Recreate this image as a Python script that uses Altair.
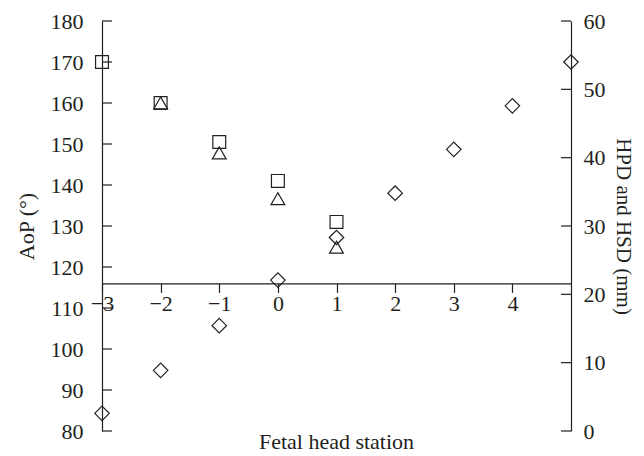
import altair as alt
import pandas as pd

# ---- data ----
stations = [-3, -2, -1, 0, 1, 2, 3, 4, 5]
aop = [84.3, 94.8, 105.7, 116.8, 127.2, 138.0, 148.7, 159.3, 170.0]

hpd_stations = [-3, -2, -1, 0, 1]
hpd = [54.0, 48.0, 42.3, 36.6, 30.6]

hsd_stations = [-2, -1, 0, 1]
hsd = [48.0, 40.7, 34.0, 26.9]

x_ticks = [-3, -2, -1, 0, 1, 2, 3, 4]
left_ticks = [80, 90, 100, 110, 120, 130, 140, 150, 160, 170, 180]
right_ticks = [0, 10, 20, 30, 40, 50, 60]

x_domain = [-3, 5]
left_domain = [80, 180]
right_domain = [0, 60]
x_axis_at = 116  # AoP value where the station axis crosses

W, H = 469, 410
FONT = "Liberation Serif"
INK = "#231f20"
FS = 22

df_aop = pd.DataFrame({"station": stations, "v": aop})
df_hpd = pd.DataFrame({"station": hpd_stations, "v": hpd})
df_hsd = pd.DataFrame({"station": hsd_stations, "v": hsd})
df_lt = pd.DataFrame({"v": left_ticks})
df_rt = pd.DataFrame({"v": right_ticks})

# move the bottom axis up so it crosses at x_axis_at on the AoP scale
x_offset = -H * (x_axis_at - left_domain[0]) / (left_domain[1] - left_domain[0])

x_axis = alt.Axis(
    values=x_ticks, title=None, grid=False, offset=x_offset,
    tickSize=9, tickColor=INK, domainColor=INK, tickWidth=1.2, domainWidth=1.2,
    labelFont=FONT, labelFontSize=FS, labelColor=INK, labelPadding=1,
    labelFlush=False, labelOverlap=False, format="d",
)
X = alt.X("station:Q", scale=alt.Scale(domain=x_domain, nice=False, zero=False), axis=x_axis)

left_scale = alt.Scale(domain=left_domain, nice=False, zero=False)
right_scale = alt.Scale(domain=right_domain, nice=False, zero=False)

left_axis = alt.Axis(
    orient="left", values=left_ticks, title="AoP (°)", grid=False, ticks=False,
    domainColor=INK, domainWidth=1.2,
    labelFont=FONT, labelFontSize=FS, labelColor=INK, labelPadding=19,
    titleFont=FONT, titleFontSize=FS, titleFontWeight="normal", titleColor=INK, titlePadding=12,
)
right_axis = alt.Axis(
    orient="right", values=right_ticks, title="HPD and HSD (mm)", grid=False, ticks=False,
    domainColor=INK, domainWidth=1.2,
    labelFont=FONT, labelFontSize=FS, labelColor=INK, labelPadding=12,
    titleFont=FONT, titleFontSize=21, titleFontWeight="normal", titleColor=INK, titlePadding=7,
    titleAngle=90,
)

pt = dict(filled=False, stroke=INK, strokeWidth=1.2, opacity=1)

diamonds = alt.Chart(df_aop).mark_point(shape="diamond", size=210, **pt).encode(
    x=X, y=alt.Y("v:Q", scale=left_scale, axis=left_axis)
)
squares = alt.Chart(df_hpd).mark_point(shape="square", size=165, **pt).encode(
    x=X, y=alt.Y("v:Q", scale=right_scale, axis=right_axis)
)
triangles = alt.Chart(df_hsd).mark_point(shape="triangle-up", size=190, **pt).encode(
    x=X, y=alt.Y("v:Q", scale=right_scale, axis=None)
)
left_tick_rules = alt.Chart(df_lt).mark_rule(color=INK, strokeWidth=1.2).encode(
    y=alt.Y("v:Q", scale=left_scale, axis=None), x=alt.value(0), x2=alt.value(10)
)
right_tick_rules = alt.Chart(df_rt).mark_rule(color=INK, strokeWidth=1.2).encode(
    y=alt.Y("v:Q", scale=right_scale, axis=None), x=alt.value(W - 10), x2=alt.value(W)
)

chart = alt.layer(
    diamonds, squares, triangles, left_tick_rules, right_tick_rules
).resolve_scale(y="independent").properties(
    width=W, height=H,
    autosize=alt.AutoSizeParams(type="none"),
    padding={"left": 94, "top": 13, "right": 65, "bottom": 27},
    title=alt.TitleParams(
        "Fetal head station", orient="bottom", anchor="middle", frame="group",
        font=FONT, fontSize=FS, fontWeight="normal", color=INK, offset=-10,
    ),
).configure_view(stroke=None)

chart.save("out.html", embed_options={"renderer": "svg", "actions": False})
